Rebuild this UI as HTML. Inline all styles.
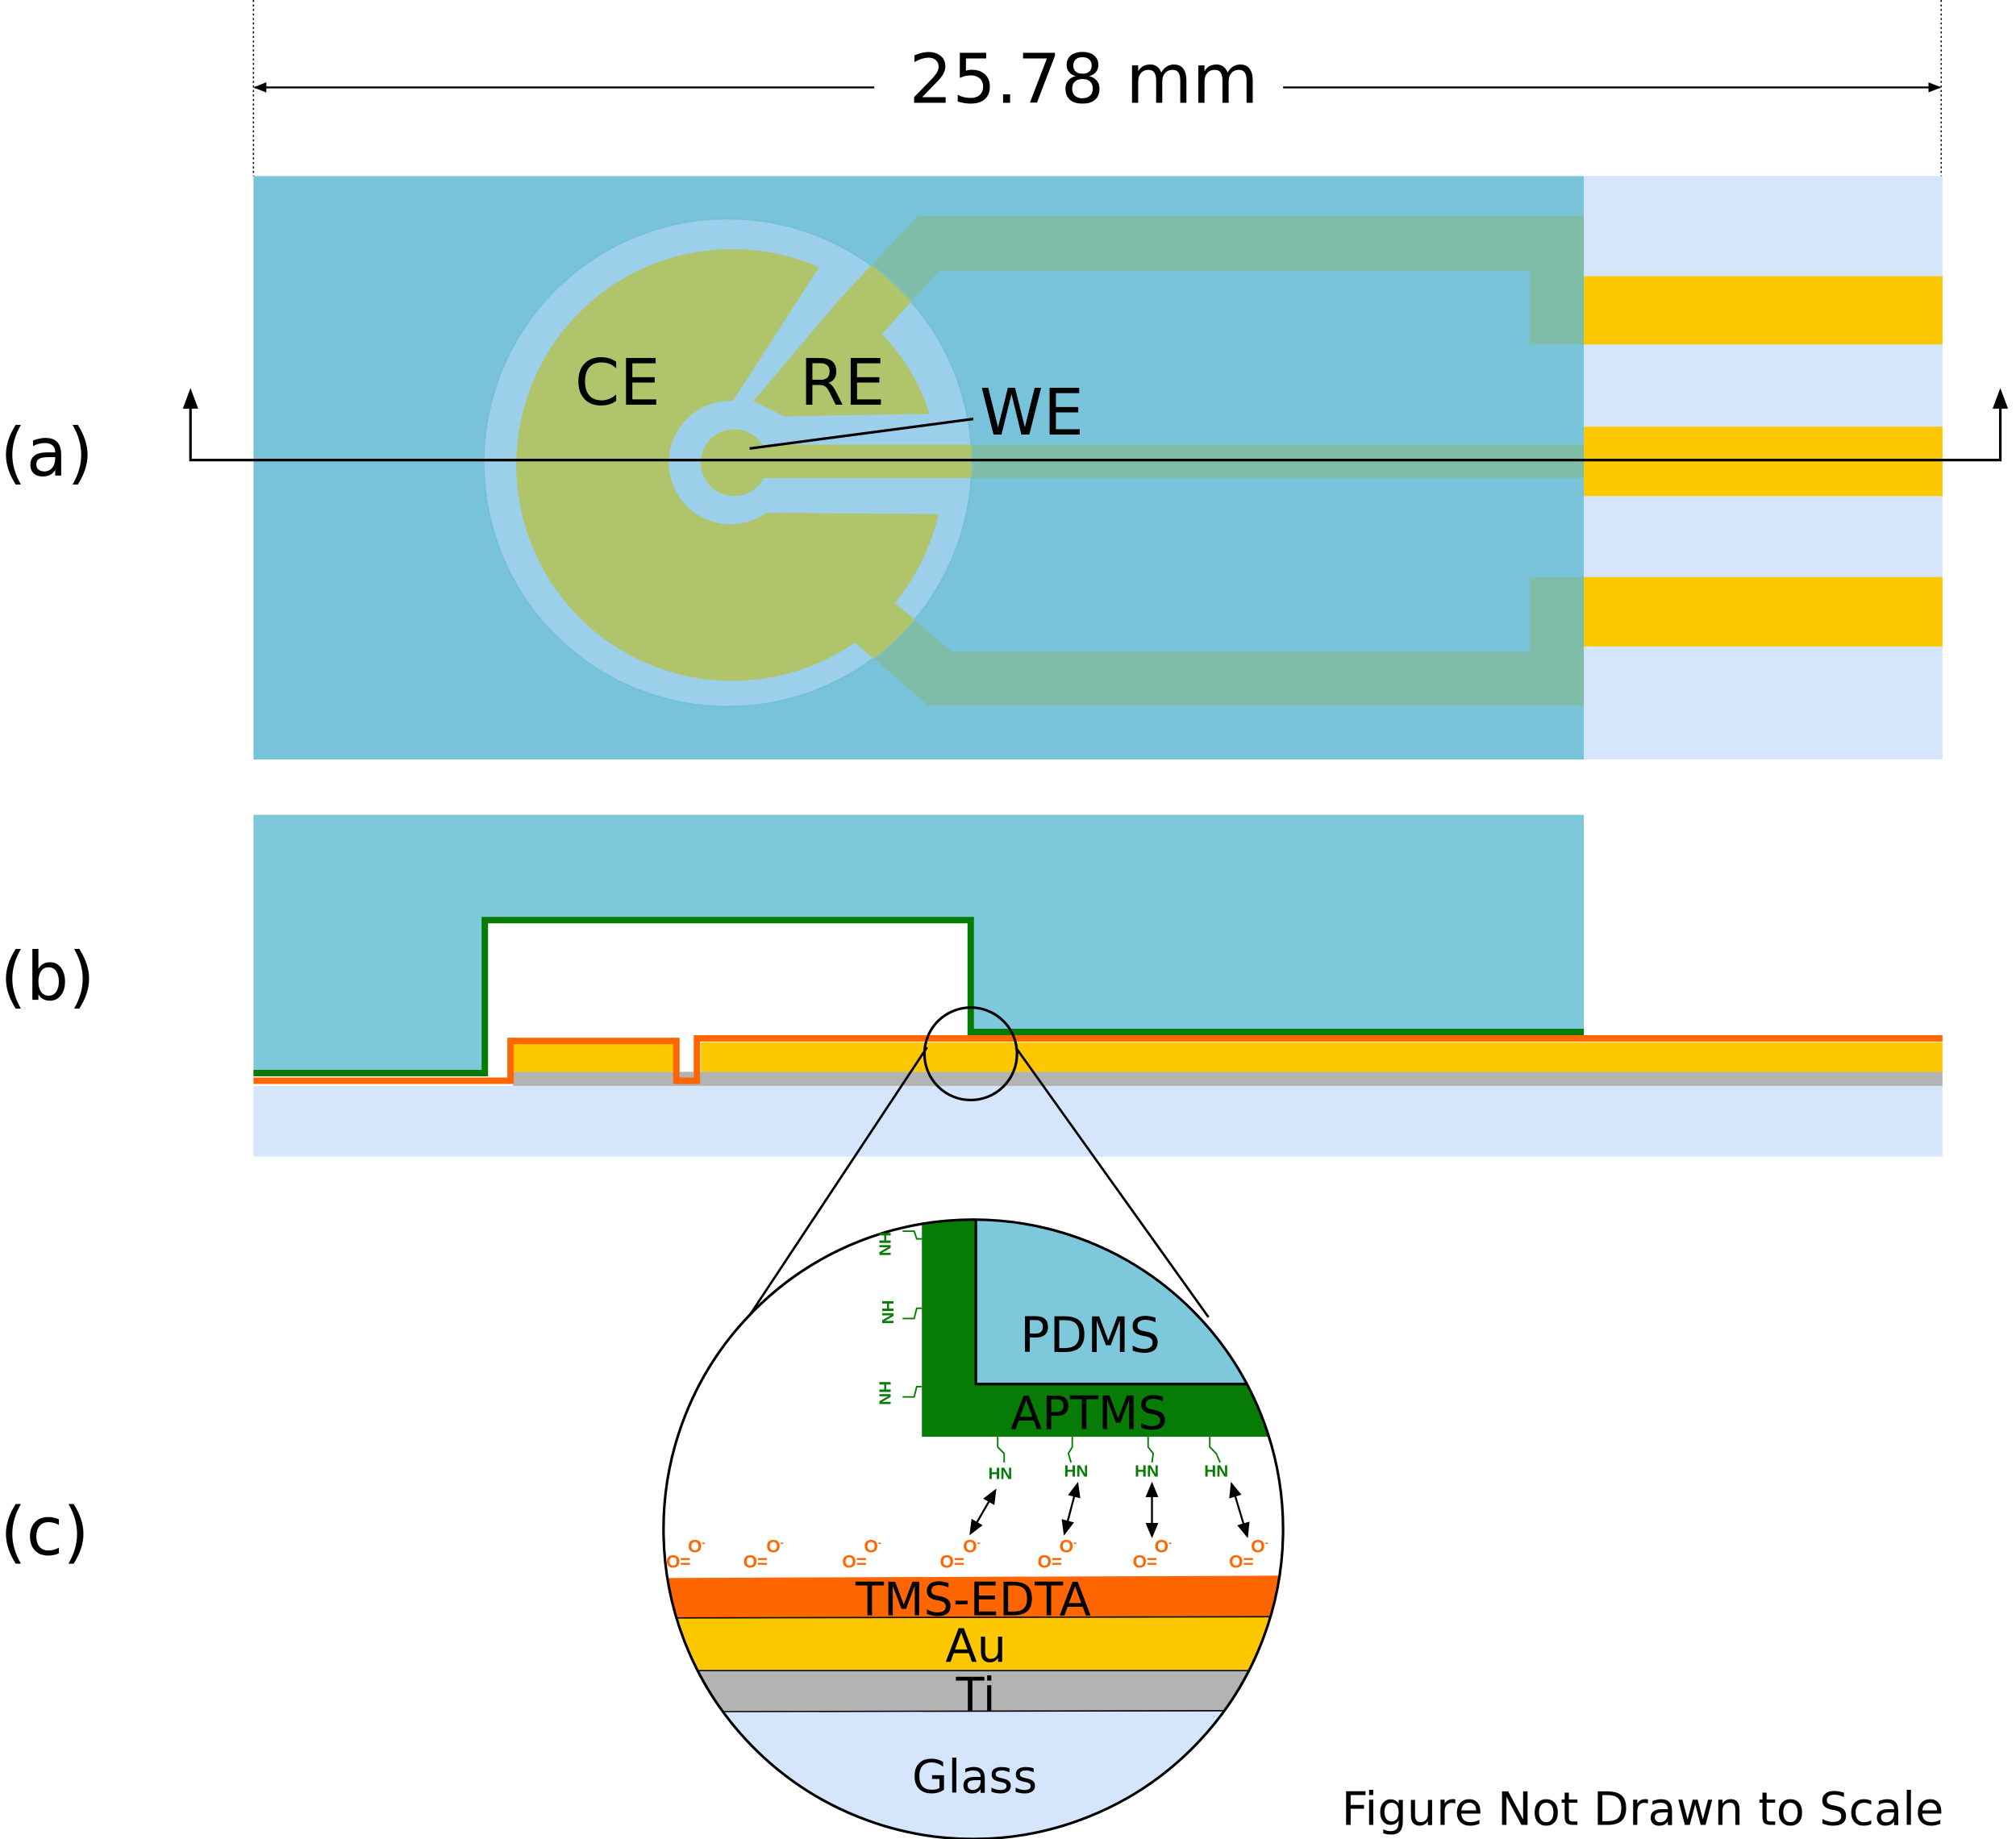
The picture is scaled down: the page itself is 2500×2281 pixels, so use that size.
<!DOCTYPE html>
<html><head><meta charset="utf-8"><style>html,body{margin:0;padding:0;background:#fff}svg{display:block}</style></head>
<body>
<svg width="2500" height="2281" viewBox="0 0 1568 1431" xmlns="http://www.w3.org/2000/svg" font-family="'DejaVu Sans','Liberation Sans',sans-serif">
<defs>
<clipPath id="cc"><circle cx="566" cy="360" r="190"/></clipPath>
<clipPath id="zc"><circle cx="757" cy="1190" r="241"/></clipPath>
<marker id="ah" markerWidth="10" markerHeight="10" refX="9" refY="5" orient="auto" markerUnits="userSpaceOnUse"><path d="M0,1 L10,5 L0,9 Z" fill="#000"/></marker>
<marker id="ab" markerWidth="12" markerHeight="12" refX="10" refY="6" orient="auto-start-reverse" markerUnits="userSpaceOnUse"><path d="M0,1 L12,6 L0,11 Z" fill="#000"/></marker>
</defs>
<line x1="197" y1="0" x2="197" y2="137" stroke="#000" stroke-width="1" stroke-dasharray="1.5,2"/>
<line x1="1510" y1="0" x2="1510" y2="137" stroke="#000" stroke-width="1" stroke-dasharray="1.5,2"/>
<line x1="680" y1="68" x2="198" y2="68" stroke="#000" stroke-width="1.5" marker-end="url(#ah)"/>
<line x1="998" y1="68" x2="1509" y2="68" stroke="#000" stroke-width="1.5" marker-end="url(#ah)"/>
<text x="843" y="80" font-size="53" text-anchor="middle">25.78 mm</text>
<rect x="197" y="137" width="1035" height="454" fill="#78c3da"/>
<rect x="1232" y="137" width="279" height="454" fill="#d5e5fb"/>
<rect x="1232" y="215" width="279" height="53" fill="#fdc800"/>
<rect x="1232" y="332" width="279" height="54" fill="#fdc800"/>
<rect x="1232" y="449" width="279" height="54" fill="#fdc800"/>
<g fill="#80bda8">
<path d="M652,234 L678,206 L714,168 L1232,168 L1232,268 L1190,268 L1190,211 L730,211 L686,260 Z"/>
<rect x="590" y="346" width="642" height="26"/>
<path d="M696,469 L740,507 L1190,507 L1190,449 L1232,449 L1232,549 L722,549 L665,500 Z"/>
</g>
<circle cx="566" cy="360" r="190" fill="#9ccfe9" stroke="#74c0d8" stroke-width="1.5"/>
<g clip-path="url(#cc)" fill="#b0c46c">
<path d="M637,208 L570,312 A48,48 0 1,0 596,399 L730,400 A168,168 0 0,1 696,469 L740,507 L1190,507 L1190,549 L722,549 L665,500 A168,168 0 1,1 637,208 Z"/>
<path d="M678,206 L714,168 L900,168 L900,211 L730,211 L686,260 A160,160 0 0,1 723,322 L610,324 L586,312 L652,234 Z"/>
<circle cx="571" cy="360" r="26"/>
<rect x="590" y="346" width="300" height="26"/>
</g>
<text x="447" y="315" font-size="50">CE</text>
<text x="622" y="315" font-size="50">RE</text>
<text x="762" y="338" font-size="50">WE</text>
<line x1="583" y1="349" x2="757" y2="326" stroke="#000" stroke-width="2"/>
<path d="M148,310 L148,358 L1556,358 L1556,310" fill="none" stroke="#000" stroke-width="2"/>
<path d="M142,318 L148,302 L154,318 Z M1550,318 L1556,302 L1562,318 Z" fill="#000"/>
<text x="0" y="370" font-size="52">(a)</text>
<text x="0" y="778" font-size="52">(b)</text>
<text x="0" y="1210" font-size="52">(c)</text>
<rect x="197" y="845" width="1314" height="55" fill="#d5e5fb"/>
<rect x="399" y="834" width="1112" height="11" fill="#b3b3b3"/>
<rect x="399" y="811" width="125" height="23" fill="#fdc800"/>
<rect x="545" y="811" width="966" height="23" fill="#fdc800"/>
<path d="M197,634 L1232,634 L1232,803 L755,803 L755,716 L377,716 L377,836 L197,836 Z" fill="#7ec8dc"/>
<path d="M197,835 L377,835 L377,716 L755,716 L755,803 L1232,803" fill="none" stroke="#067c06" stroke-width="5"/>
<path d="M197,841 L397,841 L397,810 L526,810 L526,841 L542,841 L542,808 L1511,808" fill="none" stroke="#ff6600" stroke-width="5"/>
<circle cx="755" cy="820" r="36" fill="none" stroke="#000" stroke-width="2"/>
<line x1="721" y1="815" x2="580" y2="1028" stroke="#000" stroke-width="1.8"/>
<line x1="790" y1="815" x2="940" y2="1025" stroke="#000" stroke-width="1.8"/>
<g clip-path="url(#zc)">
<rect x="500" y="940" width="520" height="500" fill="#fff"/>
<rect x="717" y="940" width="300" height="178" fill="#067c06"/>
<rect x="759" y="940" width="260" height="137" fill="#7ec8dc" stroke="#000" stroke-width="2"/>
<path d="M500,1228 L1010,1226 L1010,1258 L500,1259 Z" fill="#ff6600"/>
<path d="M500,1259 L1010,1258 L1010,1300 L500,1300 Z" fill="#fdc800"/>
<rect x="500" y="1300" width="510" height="32" fill="#b3b3b3"/>
<rect x="500" y="1332" width="510" height="110" fill="#d5e5fb"/>
<g stroke="#000" stroke-width="1"><line x1="500" y1="1259" x2="1010" y2="1258"/><line x1="500" y1="1300" x2="1010" y2="1300"/><line x1="500" y1="1332" x2="1010" y2="1331"/></g>
</g>
<circle cx="757" cy="1190" r="241" fill="none" stroke="#000" stroke-width="2"/>
<text x="848" y="1052" font-size="38" text-anchor="middle">PDMS</text>
<text x="847" y="1112" font-size="36" text-anchor="middle">APTMS</text>
<text x="757" y="1257" font-size="36" text-anchor="middle">TMS-EDTA</text>
<text x="759" y="1293" font-size="36" text-anchor="middle">Au</text>
<text x="759" y="1331" font-size="36" text-anchor="middle">Ti</text>
<text x="758" y="1395" font-size="36" text-anchor="middle">Glass</text>
<g fill="#067c06" font-size="13" font-weight="bold" font-family="'Liberation Sans',sans-serif">
<text transform="translate(684,968) rotate(90)" text-anchor="middle">HN</text>
<text transform="translate(686,1021) rotate(90)" text-anchor="middle">HN</text>
<text transform="translate(684,1084) rotate(90)" text-anchor="middle">HN</text>
<text x="778" y="1151" text-anchor="middle">HN</text>
<text x="837" y="1149" text-anchor="middle">HN</text>
<text x="892" y="1149" text-anchor="middle">HN</text>
<text x="946" y="1149" text-anchor="middle">HN</text>
</g>
<g fill="none" stroke="#067c06" stroke-width="1.2">
<path d="M717,964 L713,964 L711,958 L702,958"/><path d="M717,1018 L713,1018 L711,1026 L702,1026"/><path d="M717,1079 L713,1079 L711,1087 L702,1087"/>
<path d="M776,1118 L776,1126 L781,1131 L781,1138"/><path d="M834,1118 L834,1126 L831,1131 L833,1138"/><path d="M893,1118 L893,1126 L897,1131 L896,1138"/><path d="M941,1118 L941,1126 L946,1131 L949,1138"/>
</g>
<g stroke="#000" stroke-width="1.5">
<line x1="774" y1="1160" x2="755" y2="1193" marker-start="url(#ab)" marker-end="url(#ab)"/>
<line x1="838" y1="1155" x2="828" y2="1193" marker-start="url(#ab)" marker-end="url(#ab)"/>
<line x1="896" y1="1155" x2="896" y2="1195" marker-start="url(#ab)" marker-end="url(#ab)"/>
<line x1="958" y1="1155" x2="970" y2="1195" marker-start="url(#ab)" marker-end="url(#ab)"/>
</g>
<g fill="#ff6600" font-size="14" font-weight="bold" font-family="'Liberation Sans',sans-serif">
<text x="518" y="1220">O=</text><text x="535" y="1208">O<tspan font-size="8" dy="-5">-</tspan></text>
<text x="578" y="1220">O=</text><text x="596" y="1208">O<tspan font-size="8" dy="-5">-</tspan></text>
<text x="655" y="1220">O=</text><text x="672" y="1208">O<tspan font-size="8" dy="-5">-</tspan></text>
<text x="731" y="1220">O=</text><text x="749" y="1208">O<tspan font-size="8" dy="-5">-</tspan></text>
<text x="807" y="1220">O=</text><text x="824" y="1208">O<tspan font-size="8" dy="-5">-</tspan></text>
<text x="881" y="1220">O=</text><text x="898" y="1208">O<tspan font-size="8" dy="-5">-</tspan></text>
<text x="956" y="1220">O=</text><text x="973" y="1208">O<tspan font-size="8" dy="-5">-</tspan></text>
</g>
<text x="1512" y="1420" font-size="36" text-anchor="end">Figure Not Drawn to Scale</text>
</svg>
</body></html>
